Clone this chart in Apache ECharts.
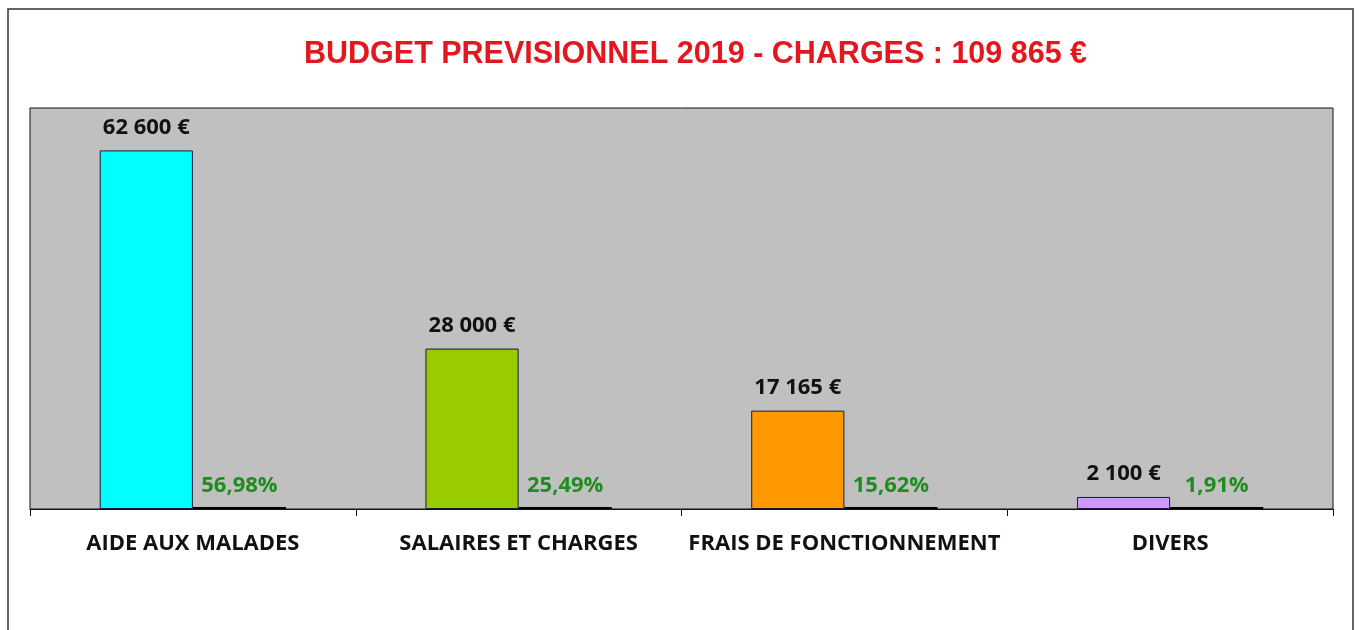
<!DOCTYPE html>
<html>
<head>
<meta charset="utf-8">
<script src="https://cdn.jsdelivr.net/npm/echarts@6/dist/echarts.min.js"></script>
<style>
  html, body { margin: 0; padding: 0; background: #fff; }
  #chart { width: 1361px; height: 630px; }
</style>
</head>
<body>
<div id="chart"></div>
<script>
// catégories et valeurs
const categories = ['AIDE AUX MALADES', 'SALAIRES ET CHARGES', 'FRAIS DE FONCTIONNEMENT', 'DIVERS']
const montants = [62600, 28000, 17165, 2100]
const pourcentages = [56.98, 25.49, 15.62, 1.91]
const couleurs = ['#00FFFF', '#99CC00', '#FF9900', '#CC99FF']
const titre = 'BUDGET PREVISIONNEL 2019 - CHARGES : 109 865 €'

const labelFont = '"Open Sans", sans-serif'

function euros(v) {
  return String(v).replace(/\B(?=(\d{3})+(?!\d))/g, ' ') + ' €'
}

const chart = echarts.init(document.getElementById('chart'), null, { renderer: 'canvas' })

chart.setOption({
  backgroundColor: '#fff',
  animation: false,

  title: {
    text: titre,
    left: 299,
    top: 34,
    textStyle: {
      color: '#E3171E',
      fontFamily: '"Liberation Sans", Arial, sans-serif',
      fontWeight: 'bold',
      fontSize: 30.5
    }
  },

  // cadre de la zone de graphique (Excel)
  graphic: [{
    type: 'rect',
    shape: { x: 8, y: 9, width: 1345, height: 640 },
    style: { fill: 'none', stroke: '#333', lineWidth: 1.5 },
    silent: true
  }],

  // zone de traçage grise
  grid: {
    left: 30,
    right: 28,
    top: 108,
    bottom: 121,
    show: true,
    backgroundColor: '#C0C0C0',
    borderColor: '#111',
    borderWidth: 1
  },

  xAxis: {
    type: 'category',
    data: categories,
    axisLine: { lineStyle: { color: '#111', width: 1 } },
    axisTick: { show: true, length: 7, lineStyle: { color: '#111' } },
    axisLabel: {
      interval: 0,
      margin: 24,
      color: '#111',
      fontFamily: labelFont,
      fontWeight: 'bold',
      fontSize: 22
    }
  },

  yAxis: {
    type: 'value',
    min: 0,
    max: 70000,
    show: false,
    splitLine: { show: false }
  },

  series: [{
    name: 'Montant',
    type: 'bar',
    barWidth: '28.6%',
    barGap: '0%',
    data: montants.map((v, i) => ({
      value: v,
      itemStyle: { color: couleurs[i] }
    })),
    itemStyle: { borderColor: '#1a1a3a', borderWidth: 1 },
    label: {
      show: true,
      position: 'top',
      distance: 12,
      color: '#111',
      fontFamily: labelFont,
      fontWeight: 'bold',
      fontSize: 22,
      formatter: p => euros(p.value)
    }
  }, {
    name: 'Pourcentage',
    type: 'bar',
    barWidth: '28.6%',
    barMinHeight: 2,
    data: pourcentages.map(p => p / 100),
    itemStyle: { color: '#000' },
    label: {
      show: true,
      position: 'top',
      distance: 10,
      color: '#1E8C1E',
      fontFamily: labelFont,
      fontWeight: 'bold',
      fontSize: 22,
      formatter: p => pourcentages[p.dataIndex].toFixed(2).replace('.', ',') + '%'
    }
  }]
})
</script>
</body>
</html>
